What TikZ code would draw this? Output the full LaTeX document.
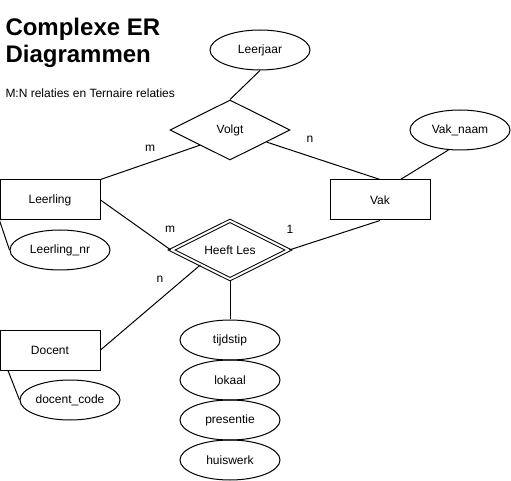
\documentclass[tikz,border=0pt]{standalone}
\usepackage{fontspec}
\setmainfont{Liberation Sans}
\usetikzlibrary{shapes,positioning}

\begin{document}
\begin{tikzpicture}[x=0.75pt, y=-0.75pt, line width=0.75pt, node distance=30pt,
    font=\fontsize{9}{11}\selectfont,
    entity/.style={draw, rectangle, minimum width=75pt, minimum height=30pt, inner sep=0pt},
    attrib/.style={draw, ellipse, minimum width=75pt, minimum height=30pt, inner sep=0pt},
    relation/.style={draw, diamond, aspect=2, minimum width=90pt, minimum height=45pt, inner sep=0pt},
    card/.style={inner sep=0pt}]
    \useasboundingbox (0,0) rectangle (511,481);

    \node[anchor=base west, inner sep=0pt, font=\fontsize{18}{20}\selectfont\bfseries] (title) at (5,36) {Complexe ER};
    \node[anchor=base west, inner sep=0pt, font=\fontsize{18}{20}\selectfont\bfseries] (titleb) at (5,63) {Diagrammen};
    \node[anchor=base west, inner sep=0pt] (subtitle) at (5,98) {M:N relaties en Ternaire relaties};

    \node[attrib] (leerjaar) at (260,50) {Leerjaar};
    \node[relation] (volgt) at (230,130) {Volgt};
    \node[attrib] (vaknaam) at (460,130) {Vak\_naam};
    \node[entity] (leerling) at (50,200) {Leerling};
    \node[entity] (vak) at (380,200) {Vak};
    \node[attrib] (leerlingnr) at (60,250) {Leerling\_nr};
    \node[relation, double, double distance=1.5pt, minimum width=88pt, minimum height=44pt] (heeftles) at (230,250) {Heeft Les};
    \node[entity] (docent) at (50,350) {Docent};
    \node[attrib] (docentcode) at (70,400) {docent\_code};
    \node[attrib] (tijdstip) at (230,340) {tijdstip};
    \node[attrib, below of=tijdstip] (lokaal) {lokaal};
    \node[attrib, below of=lokaal] (presentie) {presentie};
    \node[attrib, below of=presentie] (huiswerk) {huiswerk};

    % cardinaliteiten
    \node[card] (cvolgtl) at (150,148) {m};
    \node[card] (cvolgtv) at (310,139) {n};
    \node[card] (clesl) at (170,229) {m};
    \node[card] (clesv) at (290,229) {1};
    \node[card] (clesd) at (160,279) {n};

    \draw (leerjaar.south) -- (volgt.north);
    \draw (leerling.north east) -- (volgt.south west);
    \draw (volgt) -- (vak.north);
    \draw (vaknaam.240) -- (vak.45);
    \draw (leerling.south west) -- (leerlingnr.west);
    \draw (leerling.east) -- (heeftles.west);
    \draw (vak.south) -- (heeftles.east);
    \draw (docent.east) -- (heeftles.south west);
    \draw (docent.206) -- (docentcode.west);
    \draw (heeftles.south) -- (tijdstip.north);
\end{tikzpicture}
\end{document}
